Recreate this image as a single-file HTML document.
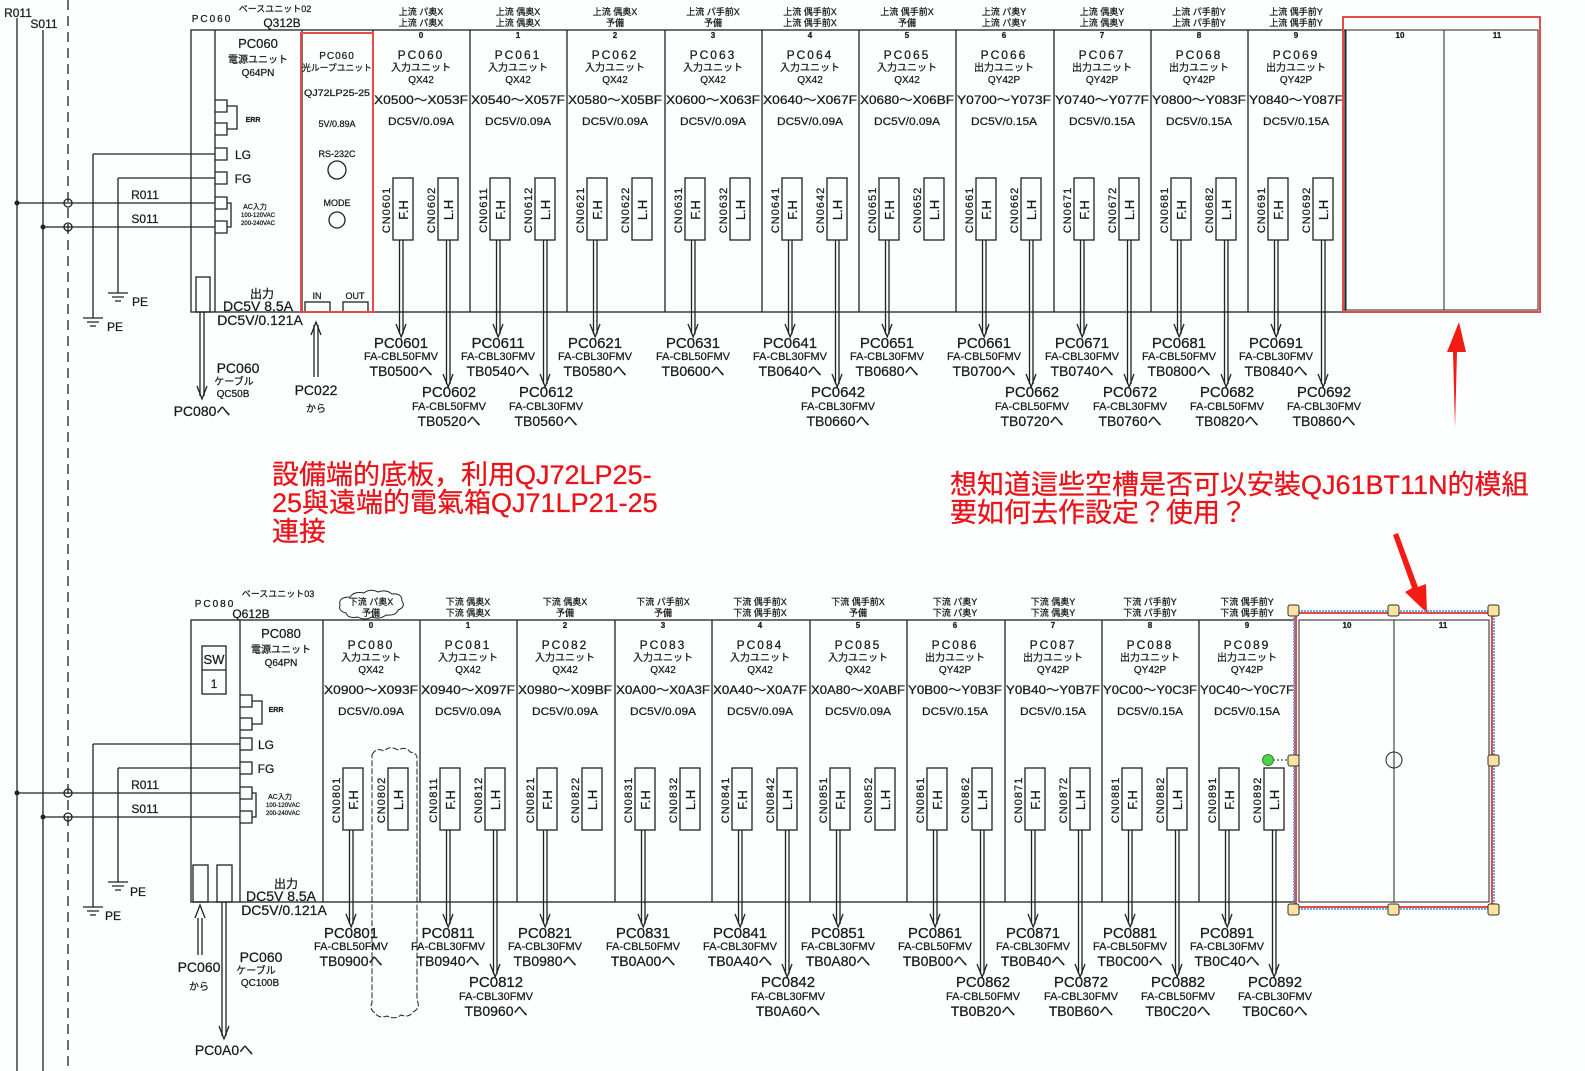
<!DOCTYPE html>
<html><head><meta charset="utf-8">
<style>
html,body{margin:0;padding:0;background:#fdfefe;}
svg{display:block;font-family:"Liberation Sans","Noto Sans CJK JP",sans-serif;}
text{fill:#1a1a1a;text-anchor:middle;stroke:#1a1a1a;stroke-width:0.25px;}
.h{font-size:9px;}
.n{font-size:8px;font-weight:bold;}
.p{font-size:12px;letter-spacing:2px;}
.t{font-size:10px;}
.r{font-size:12px;}
.d{font-size:11px;}
.c{font-size:11px;letter-spacing:1px;}
.f{font-size:13px;}
.l1{font-size:15px;}
.l2{font-size:11px;}
.l3{font-size:14px;}
.s{font-size:12px;}
.an{fill:#e8141a;font-size:27px;text-anchor:start;stroke:#e8141a;stroke-width:0.3px;}
.k{stroke:#222;stroke-width:1.3;fill:none;}
</style></head><body>
<svg width="1585" height="1071" viewBox="0 0 1585 1071" xmlns="http://www.w3.org/2000/svg">
<defs>
<g id="cn" class="k">
<rect x="20" y="178" width="20" height="62"/><rect x="65" y="178" width="20" height="62"/>
</g>
<g id="w1" class="k"><line x1="26.5" y1="240" x2="26.5" y2="334"/><line x1="30" y1="240" x2="30" y2="334"/><path d="M23,324 L28.2,337 L33,324"/></g>
<g id="w2" class="k"><line x1="73.5" y1="240" x2="73.5" y2="384"/><line x1="77" y1="240" x2="77" y2="384"/><path d="M70,374 L75.2,387 L80,374"/></g>
</defs>

<g class="k">
<line x1="17" y1="18" x2="17" y2="1071"/><line x1="43" y1="30" x2="43" y2="1071"/>
<line x1="68" y1="0" x2="68" y2="1071" stroke-dasharray="10,6"/>
</g>
<text x="18" y="17" class="s">R011</text>
<text x="44" y="28" class="s">S011</text>

<!-- TOP RACK -->
<g class="k">
<rect x="191" y="30" width="1154" height="282"/>
<line x1="215" y1="30" x2="215" y2="312"/><line x1="302" y1="30" x2="302" y2="312"/>
<line x1="373" y1="30" x2="373" y2="312"/><line x1="470" y1="30" x2="470" y2="312"/><line x1="567" y1="30" x2="567" y2="312"/><line x1="665" y1="30" x2="665" y2="312"/><line x1="762" y1="30" x2="762" y2="312"/><line x1="859" y1="30" x2="859" y2="312"/><line x1="956" y1="30" x2="956" y2="312"/><line x1="1054" y1="30" x2="1054" y2="312"/><line x1="1151" y1="30" x2="1151" y2="312"/><line x1="1248" y1="30" x2="1248" y2="312"/>
<rect x="196" y="277" width="14" height="35"/>
<path d="M215,100 h12 v12 h-12 M215,123 h12 v12 h-12 M227,106 h10 v23 h-10"/>
<path d="M215,148 h12 v12 h-12 M215,172 h12 v12 h-12 M215,197 h12 v12 h-12 M215,221 h12 v12 h-12 M227,203 h4 v24 h-4"/>
<line x1="17" y1="203" x2="215" y2="203"/><line x1="43" y1="227" x2="215" y2="227"/>
<line x1="93" y1="154" x2="215" y2="154"/><line x1="93" y1="154" x2="93" y2="318"/>
<line x1="118" y1="178" x2="215" y2="178"/><line x1="118" y1="178" x2="118" y2="293"/>
<path d="M108,293 h20 M112,297 h12 M115,301 h6 M83,318 h20 M87,322 h12 M90,326 h6"/>
<circle cx="68" cy="203" r="4"/><circle cx="68" cy="227" r="4"/>
<line x1="200" y1="312" x2="200" y2="396"/><line x1="204" y1="312" x2="204" y2="396"/><path d="M197,386 L202,399 L207,386"/>
<line x1="314" y1="325" x2="314" y2="377"/><line x1="318" y1="325" x2="318" y2="377"/><path d="M311,335 L316,322 L321,335"/>
<circle cx="337" cy="170" r="9"/><circle cx="337" cy="220" r="8"/>
<rect x="305" y="302" width="25" height="10"/><rect x="343" y="302" width="25" height="10"/>
</g>
<circle cx="17" cy="203" r="2.5" fill="#222"/><circle cx="43" cy="227" r="2.5" fill="#222"/>
<rect x="301" y="33" width="72" height="279" fill="none" stroke="#e84a4a" stroke-width="2"/>
<text x="212" y="22" class="t" style="letter-spacing:2px">PC060</text>
<text x="275" y="12" class="h">ベースユニット02</text>
<text x="282" y="27" class="s">Q312B</text>
<text x="258" y="48" class="f">PC060</text><text x="258" y="63" class="t">電源ユニット</text><text x="258" y="76" class="t">Q64PN</text>
<text x="253" y="122" class="h" style="font-size:7px;font-weight:bold">ERR</text>
<text x="243" y="159" class="s">LG</text><text x="243" y="183" class="s">FG</text>
<text x="255" y="209" class="h" style="font-size:7px">AC入力</text><text x="258" y="217" class="h" style="font-size:6px">100-120VAC</text><text x="258" y="225" class="h" style="font-size:6px">200-240VAC</text>
<text x="145" y="199" class="s">R011</text><text x="145" y="223" class="s">S011</text>
<text x="140" y="306" class="s">PE</text><text x="115" y="331" class="s">PE</text>
<text x="262" y="298" class="s">出力</text><text x="258" y="311" class="l3">DC5V 8.5A</text><text x="260" y="325" class="l3">DC5V/0.121A</text>
<text x="238" y="373" class="l3">PC060</text><text x="234" y="385" class="t">ケーブル</text><text x="233" y="397" class="t">QC50B</text>
<text x="202" y="416" class="l3">PC080へ</text>
<text x="316" y="395" class="l3">PC022</text><text x="316" y="412" class="t">から</text>
<text x="337" y="59" class="t" style="letter-spacing:1px">PC060</text><text x="337" y="71" class="h" textLength="70" lengthAdjust="spacingAndGlyphs">光ループユニット</text>
<text x="337" y="96" class="h" textLength="66" lengthAdjust="spacingAndGlyphs">QJ72LP25-25</text><text x="337" y="127" class="h">5V/0.89A</text>
<text x="337" y="157" class="h">RS-232C</text><text x="337" y="206" class="h">MODE</text>
<text x="317" y="299" class="h">IN</text><text x="355" y="299" class="h">OUT</text>

<g transform="translate(373,0)"><text x="48" y="15" class="h">上流 パ奥X</text><text x="48" y="26" class="h">上流 パ奥X</text><text x="48" y="38" class="n">0</text><text x="48" y="59" class="p">PC060</text><text x="48" y="71" class="t">入力ユニット</text><text x="48" y="83" class="t">QX42</text><text x="48" y="104" class="r" textLength="94" lengthAdjust="spacingAndGlyphs">X0500〜X053F</text><text x="48" y="125" class="d" textLength="66" lengthAdjust="spacingAndGlyphs">DC5V/0.09A</text><use href="#cn"/><use href="#w1"/><use href="#w2"/><text transform="translate(17,210) rotate(-90)" class="c">CN0601</text><text transform="translate(62,210) rotate(-90)" class="c">CN0602</text><text transform="translate(35,210) rotate(-90)" class="f">F.H</text><text transform="translate(80,210) rotate(-90)" class="f">L.H</text></g>
<g transform="translate(470,0)"><text x="48" y="15" class="h">上流 偶奥X</text><text x="48" y="26" class="h">上流 偶奥X</text><text x="48" y="38" class="n">1</text><text x="48" y="59" class="p">PC061</text><text x="48" y="71" class="t">入力ユニット</text><text x="48" y="83" class="t">QX42</text><text x="48" y="104" class="r" textLength="94" lengthAdjust="spacingAndGlyphs">X0540〜X057F</text><text x="48" y="125" class="d" textLength="66" lengthAdjust="spacingAndGlyphs">DC5V/0.09A</text><use href="#cn"/><use href="#w1"/><use href="#w2"/><text transform="translate(17,210) rotate(-90)" class="c">CN0611</text><text transform="translate(62,210) rotate(-90)" class="c">CN0612</text><text transform="translate(35,210) rotate(-90)" class="f">F.H</text><text transform="translate(80,210) rotate(-90)" class="f">L.H</text></g>
<g transform="translate(567,0)"><text x="48" y="15" class="h">上流 偶奥X</text><text x="48" y="26" class="h">予備</text><text x="48" y="38" class="n">2</text><text x="48" y="59" class="p">PC062</text><text x="48" y="71" class="t">入力ユニット</text><text x="48" y="83" class="t">QX42</text><text x="48" y="104" class="r" textLength="94" lengthAdjust="spacingAndGlyphs">X0580〜X05BF</text><text x="48" y="125" class="d" textLength="66" lengthAdjust="spacingAndGlyphs">DC5V/0.09A</text><use href="#cn"/><use href="#w1"/><text transform="translate(17,210) rotate(-90)" class="c">CN0621</text><text transform="translate(62,210) rotate(-90)" class="c">CN0622</text><text transform="translate(35,210) rotate(-90)" class="f">F.H</text><text transform="translate(80,210) rotate(-90)" class="f">L.H</text></g>
<g transform="translate(665,0)"><text x="48" y="15" class="h">上流 パ手前X</text><text x="48" y="26" class="h">予備</text><text x="48" y="38" class="n">3</text><text x="48" y="59" class="p">PC063</text><text x="48" y="71" class="t">入力ユニット</text><text x="48" y="83" class="t">QX42</text><text x="48" y="104" class="r" textLength="94" lengthAdjust="spacingAndGlyphs">X0600〜X063F</text><text x="48" y="125" class="d" textLength="66" lengthAdjust="spacingAndGlyphs">DC5V/0.09A</text><use href="#cn"/><use href="#w1"/><text transform="translate(17,210) rotate(-90)" class="c">CN0631</text><text transform="translate(62,210) rotate(-90)" class="c">CN0632</text><text transform="translate(35,210) rotate(-90)" class="f">F.H</text><text transform="translate(80,210) rotate(-90)" class="f">L.H</text></g>
<g transform="translate(762,0)"><text x="48" y="15" class="h">上流 偶手前X</text><text x="48" y="26" class="h">上流 偶手前X</text><text x="48" y="38" class="n">4</text><text x="48" y="59" class="p">PC064</text><text x="48" y="71" class="t">入力ユニット</text><text x="48" y="83" class="t">QX42</text><text x="48" y="104" class="r" textLength="94" lengthAdjust="spacingAndGlyphs">X0640〜X067F</text><text x="48" y="125" class="d" textLength="66" lengthAdjust="spacingAndGlyphs">DC5V/0.09A</text><use href="#cn"/><use href="#w1"/><use href="#w2"/><text transform="translate(17,210) rotate(-90)" class="c">CN0641</text><text transform="translate(62,210) rotate(-90)" class="c">CN0642</text><text transform="translate(35,210) rotate(-90)" class="f">F.H</text><text transform="translate(80,210) rotate(-90)" class="f">L.H</text></g>
<g transform="translate(859,0)"><text x="48" y="15" class="h">上流 偶手前X</text><text x="48" y="26" class="h">予備</text><text x="48" y="38" class="n">5</text><text x="48" y="59" class="p">PC065</text><text x="48" y="71" class="t">入力ユニット</text><text x="48" y="83" class="t">QX42</text><text x="48" y="104" class="r" textLength="94" lengthAdjust="spacingAndGlyphs">X0680〜X06BF</text><text x="48" y="125" class="d" textLength="66" lengthAdjust="spacingAndGlyphs">DC5V/0.09A</text><use href="#cn"/><use href="#w1"/><text transform="translate(17,210) rotate(-90)" class="c">CN0651</text><text transform="translate(62,210) rotate(-90)" class="c">CN0652</text><text transform="translate(35,210) rotate(-90)" class="f">F.H</text><text transform="translate(80,210) rotate(-90)" class="f">L.H</text></g>
<g transform="translate(956,0)"><text x="48" y="15" class="h">上流 パ奥Y</text><text x="48" y="26" class="h">上流 パ奥Y</text><text x="48" y="38" class="n">6</text><text x="48" y="59" class="p">PC066</text><text x="48" y="71" class="t">出力ユニット</text><text x="48" y="83" class="t">QY42P</text><text x="48" y="104" class="r" textLength="94" lengthAdjust="spacingAndGlyphs">Y0700〜Y073F</text><text x="48" y="125" class="d" textLength="66" lengthAdjust="spacingAndGlyphs">DC5V/0.15A</text><use href="#cn"/><use href="#w1"/><use href="#w2"/><text transform="translate(17,210) rotate(-90)" class="c">CN0661</text><text transform="translate(62,210) rotate(-90)" class="c">CN0662</text><text transform="translate(35,210) rotate(-90)" class="f">F.H</text><text transform="translate(80,210) rotate(-90)" class="f">L.H</text></g>
<g transform="translate(1054,0)"><text x="48" y="15" class="h">上流 偶奥Y</text><text x="48" y="26" class="h">上流 偶奥Y</text><text x="48" y="38" class="n">7</text><text x="48" y="59" class="p">PC067</text><text x="48" y="71" class="t">出力ユニット</text><text x="48" y="83" class="t">QY42P</text><text x="48" y="104" class="r" textLength="94" lengthAdjust="spacingAndGlyphs">Y0740〜Y077F</text><text x="48" y="125" class="d" textLength="66" lengthAdjust="spacingAndGlyphs">DC5V/0.15A</text><use href="#cn"/><use href="#w1"/><use href="#w2"/><text transform="translate(17,210) rotate(-90)" class="c">CN0671</text><text transform="translate(62,210) rotate(-90)" class="c">CN0672</text><text transform="translate(35,210) rotate(-90)" class="f">F.H</text><text transform="translate(80,210) rotate(-90)" class="f">L.H</text></g>
<g transform="translate(1151,0)"><text x="48" y="15" class="h">上流 パ手前Y</text><text x="48" y="26" class="h">上流 パ手前Y</text><text x="48" y="38" class="n">8</text><text x="48" y="59" class="p">PC068</text><text x="48" y="71" class="t">出力ユニット</text><text x="48" y="83" class="t">QY42P</text><text x="48" y="104" class="r" textLength="94" lengthAdjust="spacingAndGlyphs">Y0800〜Y083F</text><text x="48" y="125" class="d" textLength="66" lengthAdjust="spacingAndGlyphs">DC5V/0.15A</text><use href="#cn"/><use href="#w1"/><use href="#w2"/><text transform="translate(17,210) rotate(-90)" class="c">CN0681</text><text transform="translate(62,210) rotate(-90)" class="c">CN0682</text><text transform="translate(35,210) rotate(-90)" class="f">F.H</text><text transform="translate(80,210) rotate(-90)" class="f">L.H</text></g>
<g transform="translate(1248,0)"><text x="48" y="15" class="h">上流 偶手前Y</text><text x="48" y="26" class="h">上流 偶手前Y</text><text x="48" y="38" class="n">9</text><text x="48" y="59" class="p">PC069</text><text x="48" y="71" class="t">出力ユニット</text><text x="48" y="83" class="t">QY42P</text><text x="48" y="104" class="r" textLength="94" lengthAdjust="spacingAndGlyphs">Y0840〜Y087F</text><text x="48" y="125" class="d" textLength="66" lengthAdjust="spacingAndGlyphs">DC5V/0.15A</text><use href="#cn"/><use href="#w1"/><use href="#w2"/><text transform="translate(17,210) rotate(-90)" class="c">CN0691</text><text transform="translate(62,210) rotate(-90)" class="c">CN0692</text><text transform="translate(35,210) rotate(-90)" class="f">F.H</text><text transform="translate(80,210) rotate(-90)" class="f">L.H</text></g>

<g>
<text x="401" y="348" class="l1">PC0601</text><text x="401" y="360" class="l2">FA-CBL50FMV</text><text x="401" y="376" class="l3">TB0500へ</text>
<text x="498" y="348" class="l1">PC0611</text><text x="498" y="360" class="l2">FA-CBL30FMV</text><text x="498" y="376" class="l3">TB0540へ</text>
<text x="595" y="348" class="l1">PC0621</text><text x="595" y="360" class="l2">FA-CBL30FMV</text><text x="595" y="376" class="l3">TB0580へ</text>
<text x="693" y="348" class="l1">PC0631</text><text x="693" y="360" class="l2">FA-CBL50FMV</text><text x="693" y="376" class="l3">TB0600へ</text>
<text x="790" y="348" class="l1">PC0641</text><text x="790" y="360" class="l2">FA-CBL30FMV</text><text x="790" y="376" class="l3">TB0640へ</text>
<text x="887" y="348" class="l1">PC0651</text><text x="887" y="360" class="l2">FA-CBL30FMV</text><text x="887" y="376" class="l3">TB0680へ</text>
<text x="984" y="348" class="l1">PC0661</text><text x="984" y="360" class="l2">FA-CBL50FMV</text><text x="984" y="376" class="l3">TB0700へ</text>
<text x="1082" y="348" class="l1">PC0671</text><text x="1082" y="360" class="l2">FA-CBL30FMV</text><text x="1082" y="376" class="l3">TB0740へ</text>
<text x="1179" y="348" class="l1">PC0681</text><text x="1179" y="360" class="l2">FA-CBL50FMV</text><text x="1179" y="376" class="l3">TB0800へ</text>
<text x="1276" y="348" class="l1">PC0691</text><text x="1276" y="360" class="l2">FA-CBL30FMV</text><text x="1276" y="376" class="l3">TB0840へ</text>
<text x="449" y="397" class="l1">PC0602</text><text x="449" y="410" class="l2">FA-CBL50FMV</text><text x="449" y="426" class="l3">TB0520へ</text>
<text x="546" y="397" class="l1">PC0612</text><text x="546" y="410" class="l2">FA-CBL30FMV</text><text x="546" y="426" class="l3">TB0560へ</text>
<text x="838" y="397" class="l1">PC0642</text><text x="838" y="410" class="l2">FA-CBL30FMV</text><text x="838" y="426" class="l3">TB0660へ</text>
<text x="1032" y="397" class="l1">PC0662</text><text x="1032" y="410" class="l2">FA-CBL50FMV</text><text x="1032" y="426" class="l3">TB0720へ</text>
<text x="1130" y="397" class="l1">PC0672</text><text x="1130" y="410" class="l2">FA-CBL30FMV</text><text x="1130" y="426" class="l3">TB0760へ</text>
<text x="1227" y="397" class="l1">PC0682</text><text x="1227" y="410" class="l2">FA-CBL50FMV</text><text x="1227" y="426" class="l3">TB0820へ</text>
<text x="1324" y="397" class="l1">PC0692</text><text x="1324" y="410" class="l2">FA-CBL30FMV</text><text x="1324" y="426" class="l3">TB0860へ</text>
</g>

<g class="k" style="stroke-width:1">
<rect x="1346" y="30" width="192" height="280"/><line x1="1444" y1="30" x2="1444" y2="310"/>
</g>
<rect x="1343" y="17" width="197" height="295" fill="none" stroke="#e84a4a" stroke-width="2"/>
<text x="1400" y="38" class="n">10</text><text x="1497" y="38" class="n">11</text>

<text x="272" y="484" class="an">設備端的底板，利用QJ72LP25-</text>
<text x="272" y="512" class="an">25與遠端的電氣箱QJ71LP21-25</text>
<text x="272" y="541" class="an">連接</text>
<text x="950" y="494" class="an">想知道這些空槽是否可以安裝QJ61BT11N的模組</text>
<text x="950" y="522" class="an">要如何去作設定？使用？</text>
<path d="M1455,428 L1457,352 L1466,352 L1459,322 L1447,352 L1453,352 Z" fill="#f21c14"/>
<path d="M1393,535 L1412,588 L1405,592 L1427,613 L1426,584 L1418,587 L1398,533 Z" fill="#f21c14"/>

<!-- BOTTOM RACK -->
<g class="k">
<rect x="191" y="620" width="1104" height="282"/>
<line x1="240" y1="620" x2="240" y2="902"/><line x1="323" y1="620" x2="323" y2="902"/>
<line x1="420" y1="620" x2="420" y2="902"/><line x1="517" y1="620" x2="517" y2="902"/><line x1="615" y1="620" x2="615" y2="902"/><line x1="712" y1="620" x2="712" y2="902"/><line x1="810" y1="620" x2="810" y2="902"/><line x1="907" y1="620" x2="907" y2="902"/><line x1="1005" y1="620" x2="1005" y2="902"/><line x1="1102" y1="620" x2="1102" y2="902"/><line x1="1199" y1="620" x2="1199" y2="902"/>
<rect x="202" y="646" width="24" height="48"/><line x1="202" y1="670" x2="226" y2="670"/>
<rect x="193" y="865" width="15" height="37"/><rect x="217" y="865" width="15" height="37"/>
<path d="M240,695 h12 v12 h-12 M240,718 h12 v12 h-12 M252,701 h10 v23 h-10"/>
<path d="M240,738 h12 v12 h-12 M240,762 h12 v12 h-12 M240,787 h12 v12 h-12 M240,811 h12 v12 h-12 M252,793 h4 v24 h-4"/>
<line x1="17" y1="793" x2="240" y2="793"/><line x1="43" y1="817" x2="240" y2="817"/>
<line x1="93" y1="744" x2="240" y2="744"/><line x1="93" y1="744" x2="93" y2="907"/>
<line x1="118" y1="768" x2="240" y2="768"/><line x1="118" y1="768" x2="118" y2="882"/>
<path d="M108,882 h20 M112,886 h12 M115,890 h6 M83,907 h20 M87,911 h12 M90,915 h6"/>
<circle cx="68" cy="793" r="4"/><circle cx="68" cy="817" r="4"/>
<line x1="222" y1="902" x2="222" y2="1036"/><line x1="226" y1="902" x2="226" y2="1036"/><path d="M219,1026 L224,1039 L229,1026"/>
<line x1="198" y1="918" x2="198" y2="955"/><line x1="202" y1="918" x2="202" y2="955"/><path d="M195,918 L200,905 L205,918"/>
<path d="M340,605 q-2,-8 10,-8 q4,-6 14,-4 q6,-5 14,-1 q8,-3 14,2 q10,-1 10,7 q4,6 -4,9 q-2,6 -12,5 q-6,5 -14,2 q-8,4 -14,0 q-10,2 -12,-4 q-8,-2 -6,-8z" stroke-width="1"/>
<path d="M372,755 q4,-8 12,-4 q6,-6 14,-1 q8,-4 12,2 q8,1 7,8 v240 q4,8 -4,12 q-4,6 -12,3 q-6,5 -14,1 q-8,3 -12,-3 q-6,-4 -3,-10z" stroke-width="1" stroke-dasharray="6,2"/>
</g>
<circle cx="17" cy="793" r="2.5" fill="#222"/><circle cx="43" cy="817" r="2.5" fill="#222"/>
<text x="215" y="607" class="t" style="letter-spacing:2px">PC080</text>
<text x="278" y="597" class="h">ベースユニット03</text>
<text x="251" y="618" class="s">Q612B</text>
<text x="214" y="664" class="f">SW</text><text x="214" y="688" class="s">1</text>
<text x="281" y="638" class="f">PC080</text><text x="281" y="653" class="t">電源ユニット</text><text x="281" y="666" class="t">Q64PN</text>
<text x="276" y="712" class="h" style="font-size:7px;font-weight:bold">ERR</text>
<text x="266" y="749" class="s">LG</text><text x="266" y="773" class="s">FG</text>
<text x="280" y="799" class="h" style="font-size:7px">AC入力</text><text x="283" y="807" class="h" style="font-size:6px">100-120VAC</text><text x="283" y="815" class="h" style="font-size:6px">200-240VAC</text>
<text x="145" y="789" class="s">R011</text><text x="145" y="813" class="s">S011</text>
<text x="138" y="896" class="s">PE</text><text x="113" y="920" class="s">PE</text>
<text x="286" y="888" class="s">出力</text><text x="281" y="901" class="l3">DC5V 8.5A</text><text x="284" y="915" class="l3">DC5V/0.121A</text>
<text x="261" y="962" class="l3">PC060</text><text x="256" y="974" class="t">ケーブル</text><text x="260" y="986" class="t">QC100B</text>
<text x="199" y="972" class="l3">PC060</text><text x="199" y="990" class="t">から</text>
<text x="224" y="1055" class="l3">PC0A0へ</text>

<g transform="translate(323,590)"><text x="48" y="15" class="h">下流 パ奥X</text><text x="48" y="26" class="h">予備</text><text x="48" y="38" class="n">0</text><text x="48" y="59" class="p">PC080</text><text x="48" y="71" class="t">入力ユニット</text><text x="48" y="83" class="t">QX42</text><text x="48" y="104" class="r" textLength="94" lengthAdjust="spacingAndGlyphs">X0900〜X093F</text><text x="48" y="125" class="d" textLength="66" lengthAdjust="spacingAndGlyphs">DC5V/0.09A</text><use href="#cn"/><use href="#w1"/><text transform="translate(17,210) rotate(-90)" class="c">CN0801</text><text transform="translate(62,210) rotate(-90)" class="c">CN0802</text><text transform="translate(35,210) rotate(-90)" class="f">F.H</text><text transform="translate(80,210) rotate(-90)" class="f">L.H</text></g>
<g transform="translate(420,590)"><text x="48" y="15" class="h">下流 偶奥X</text><text x="48" y="26" class="h">下流 偶奥X</text><text x="48" y="38" class="n">1</text><text x="48" y="59" class="p">PC081</text><text x="48" y="71" class="t">入力ユニット</text><text x="48" y="83" class="t">QX42</text><text x="48" y="104" class="r" textLength="94" lengthAdjust="spacingAndGlyphs">X0940〜X097F</text><text x="48" y="125" class="d" textLength="66" lengthAdjust="spacingAndGlyphs">DC5V/0.09A</text><use href="#cn"/><use href="#w1"/><use href="#w2"/><text transform="translate(17,210) rotate(-90)" class="c">CN0811</text><text transform="translate(62,210) rotate(-90)" class="c">CN0812</text><text transform="translate(35,210) rotate(-90)" class="f">F.H</text><text transform="translate(80,210) rotate(-90)" class="f">L.H</text></g>
<g transform="translate(517,590)"><text x="48" y="15" class="h">下流 偶奥X</text><text x="48" y="26" class="h">予備</text><text x="48" y="38" class="n">2</text><text x="48" y="59" class="p">PC082</text><text x="48" y="71" class="t">入力ユニット</text><text x="48" y="83" class="t">QX42</text><text x="48" y="104" class="r" textLength="94" lengthAdjust="spacingAndGlyphs">X0980〜X09BF</text><text x="48" y="125" class="d" textLength="66" lengthAdjust="spacingAndGlyphs">DC5V/0.09A</text><use href="#cn"/><use href="#w1"/><text transform="translate(17,210) rotate(-90)" class="c">CN0821</text><text transform="translate(62,210) rotate(-90)" class="c">CN0822</text><text transform="translate(35,210) rotate(-90)" class="f">F.H</text><text transform="translate(80,210) rotate(-90)" class="f">L.H</text></g>
<g transform="translate(615,590)"><text x="48" y="15" class="h">下流 パ手前X</text><text x="48" y="26" class="h">予備</text><text x="48" y="38" class="n">3</text><text x="48" y="59" class="p">PC083</text><text x="48" y="71" class="t">入力ユニット</text><text x="48" y="83" class="t">QX42</text><text x="48" y="104" class="r" textLength="94" lengthAdjust="spacingAndGlyphs">X0A00〜X0A3F</text><text x="48" y="125" class="d" textLength="66" lengthAdjust="spacingAndGlyphs">DC5V/0.09A</text><use href="#cn"/><use href="#w1"/><text transform="translate(17,210) rotate(-90)" class="c">CN0831</text><text transform="translate(62,210) rotate(-90)" class="c">CN0832</text><text transform="translate(35,210) rotate(-90)" class="f">F.H</text><text transform="translate(80,210) rotate(-90)" class="f">L.H</text></g>
<g transform="translate(712,590)"><text x="48" y="15" class="h">下流 偶手前X</text><text x="48" y="26" class="h">下流 偶手前X</text><text x="48" y="38" class="n">4</text><text x="48" y="59" class="p">PC084</text><text x="48" y="71" class="t">入力ユニット</text><text x="48" y="83" class="t">QX42</text><text x="48" y="104" class="r" textLength="94" lengthAdjust="spacingAndGlyphs">X0A40〜X0A7F</text><text x="48" y="125" class="d" textLength="66" lengthAdjust="spacingAndGlyphs">DC5V/0.09A</text><use href="#cn"/><use href="#w1"/><use href="#w2"/><text transform="translate(17,210) rotate(-90)" class="c">CN0841</text><text transform="translate(62,210) rotate(-90)" class="c">CN0842</text><text transform="translate(35,210) rotate(-90)" class="f">F.H</text><text transform="translate(80,210) rotate(-90)" class="f">L.H</text></g>
<g transform="translate(810,590)"><text x="48" y="15" class="h">下流 偶手前X</text><text x="48" y="26" class="h">予備</text><text x="48" y="38" class="n">5</text><text x="48" y="59" class="p">PC085</text><text x="48" y="71" class="t">入力ユニット</text><text x="48" y="83" class="t">QX42</text><text x="48" y="104" class="r" textLength="94" lengthAdjust="spacingAndGlyphs">X0A80〜X0ABF</text><text x="48" y="125" class="d" textLength="66" lengthAdjust="spacingAndGlyphs">DC5V/0.09A</text><use href="#cn"/><use href="#w1"/><text transform="translate(17,210) rotate(-90)" class="c">CN0851</text><text transform="translate(62,210) rotate(-90)" class="c">CN0852</text><text transform="translate(35,210) rotate(-90)" class="f">F.H</text><text transform="translate(80,210) rotate(-90)" class="f">L.H</text></g>
<g transform="translate(907,590)"><text x="48" y="15" class="h">下流 パ奥Y</text><text x="48" y="26" class="h">下流 パ奥Y</text><text x="48" y="38" class="n">6</text><text x="48" y="59" class="p">PC086</text><text x="48" y="71" class="t">出力ユニット</text><text x="48" y="83" class="t">QY42P</text><text x="48" y="104" class="r" textLength="94" lengthAdjust="spacingAndGlyphs">Y0B00〜Y0B3F</text><text x="48" y="125" class="d" textLength="66" lengthAdjust="spacingAndGlyphs">DC5V/0.15A</text><use href="#cn"/><use href="#w1"/><use href="#w2"/><text transform="translate(17,210) rotate(-90)" class="c">CN0861</text><text transform="translate(62,210) rotate(-90)" class="c">CN0862</text><text transform="translate(35,210) rotate(-90)" class="f">F.H</text><text transform="translate(80,210) rotate(-90)" class="f">L.H</text></g>
<g transform="translate(1005,590)"><text x="48" y="15" class="h">下流 偶奥Y</text><text x="48" y="26" class="h">下流 偶奥Y</text><text x="48" y="38" class="n">7</text><text x="48" y="59" class="p">PC087</text><text x="48" y="71" class="t">出力ユニット</text><text x="48" y="83" class="t">QY42P</text><text x="48" y="104" class="r" textLength="94" lengthAdjust="spacingAndGlyphs">Y0B40〜Y0B7F</text><text x="48" y="125" class="d" textLength="66" lengthAdjust="spacingAndGlyphs">DC5V/0.15A</text><use href="#cn"/><use href="#w1"/><use href="#w2"/><text transform="translate(17,210) rotate(-90)" class="c">CN0871</text><text transform="translate(62,210) rotate(-90)" class="c">CN0872</text><text transform="translate(35,210) rotate(-90)" class="f">F.H</text><text transform="translate(80,210) rotate(-90)" class="f">L.H</text></g>
<g transform="translate(1102,590)"><text x="48" y="15" class="h">下流 パ手前Y</text><text x="48" y="26" class="h">下流 パ手前Y</text><text x="48" y="38" class="n">8</text><text x="48" y="59" class="p">PC088</text><text x="48" y="71" class="t">出力ユニット</text><text x="48" y="83" class="t">QY42P</text><text x="48" y="104" class="r" textLength="94" lengthAdjust="spacingAndGlyphs">Y0C00〜Y0C3F</text><text x="48" y="125" class="d" textLength="66" lengthAdjust="spacingAndGlyphs">DC5V/0.15A</text><use href="#cn"/><use href="#w1"/><use href="#w2"/><text transform="translate(17,210) rotate(-90)" class="c">CN0881</text><text transform="translate(62,210) rotate(-90)" class="c">CN0882</text><text transform="translate(35,210) rotate(-90)" class="f">F.H</text><text transform="translate(80,210) rotate(-90)" class="f">L.H</text></g>
<g transform="translate(1199,590)"><text x="48" y="15" class="h">下流 偶手前Y</text><text x="48" y="26" class="h">下流 偶手前Y</text><text x="48" y="38" class="n">9</text><text x="48" y="59" class="p">PC089</text><text x="48" y="71" class="t">出力ユニット</text><text x="48" y="83" class="t">QY42P</text><text x="48" y="104" class="r" textLength="94" lengthAdjust="spacingAndGlyphs">Y0C40〜Y0C7F</text><text x="48" y="125" class="d" textLength="66" lengthAdjust="spacingAndGlyphs">DC5V/0.15A</text><use href="#cn"/><use href="#w1"/><use href="#w2"/><text transform="translate(17,210) rotate(-90)" class="c">CN0891</text><text transform="translate(62,210) rotate(-90)" class="c">CN0892</text><text transform="translate(35,210) rotate(-90)" class="f">F.H</text><text transform="translate(80,210) rotate(-90)" class="f">L.H</text></g>

<g>
<text x="351" y="938" class="l1">PC0801</text><text x="351" y="950" class="l2">FA-CBL50FMV</text><text x="351" y="966" class="l3">TB0900へ</text>
<text x="448" y="938" class="l1">PC0811</text><text x="448" y="950" class="l2">FA-CBL30FMV</text><text x="448" y="966" class="l3">TB0940へ</text>
<text x="545" y="938" class="l1">PC0821</text><text x="545" y="950" class="l2">FA-CBL30FMV</text><text x="545" y="966" class="l3">TB0980へ</text>
<text x="643" y="938" class="l1">PC0831</text><text x="643" y="950" class="l2">FA-CBL50FMV</text><text x="643" y="966" class="l3">TB0A00へ</text>
<text x="740" y="938" class="l1">PC0841</text><text x="740" y="950" class="l2">FA-CBL30FMV</text><text x="740" y="966" class="l3">TB0A40へ</text>
<text x="838" y="938" class="l1">PC0851</text><text x="838" y="950" class="l2">FA-CBL30FMV</text><text x="838" y="966" class="l3">TB0A80へ</text>
<text x="935" y="938" class="l1">PC0861</text><text x="935" y="950" class="l2">FA-CBL50FMV</text><text x="935" y="966" class="l3">TB0B00へ</text>
<text x="1033" y="938" class="l1">PC0871</text><text x="1033" y="950" class="l2">FA-CBL30FMV</text><text x="1033" y="966" class="l3">TB0B40へ</text>
<text x="1130" y="938" class="l1">PC0881</text><text x="1130" y="950" class="l2">FA-CBL50FMV</text><text x="1130" y="966" class="l3">TB0C00へ</text>
<text x="1227" y="938" class="l1">PC0891</text><text x="1227" y="950" class="l2">FA-CBL30FMV</text><text x="1227" y="966" class="l3">TB0C40へ</text>
<text x="496" y="987" class="l1">PC0812</text><text x="496" y="1000" class="l2">FA-CBL30FMV</text><text x="496" y="1016" class="l3">TB0960へ</text>
<text x="788" y="987" class="l1">PC0842</text><text x="788" y="1000" class="l2">FA-CBL30FMV</text><text x="788" y="1016" class="l3">TB0A60へ</text>
<text x="983" y="987" class="l1">PC0862</text><text x="983" y="1000" class="l2">FA-CBL50FMV</text><text x="983" y="1016" class="l3">TB0B20へ</text>
<text x="1081" y="987" class="l1">PC0872</text><text x="1081" y="1000" class="l2">FA-CBL30FMV</text><text x="1081" y="1016" class="l3">TB0B60へ</text>
<text x="1178" y="987" class="l1">PC0882</text><text x="1178" y="1000" class="l2">FA-CBL50FMV</text><text x="1178" y="1016" class="l3">TB0C20へ</text>
<text x="1275" y="987" class="l1">PC0892</text><text x="1275" y="1000" class="l2">FA-CBL30FMV</text><text x="1275" y="1016" class="l3">TB0C60へ</text>
</g>

<rect x="1295" y="612" width="198" height="296" fill="none" stroke="#6aa8e0" stroke-width="4" stroke-dasharray="2,1"/>
<rect x="1296" y="613" width="196" height="294" fill="none" stroke="#e84a4a" stroke-width="2"/>
<g class="k" style="stroke-width:1">
<rect x="1299" y="620" width="190" height="282"/><line x1="1394" y1="620" x2="1394" y2="902"/>
<circle cx="1394" cy="760" r="8"/>
<line x1="1273" y1="760" x2="1288" y2="760" stroke-dasharray="2,2"/>
</g>
<text x="1347" y="628" class="n">10</text><text x="1443" y="628" class="n">11</text>
<circle cx="1268" cy="760" r="5.5" fill="#4fd24f" stroke="#2a8a2a"/>
<g fill="#fde3a0" stroke="#333" stroke-width="1">
<rect x="1288" y="605" width="11" height="11" rx="2"/><rect x="1388" y="605" width="11" height="11" rx="2"/><rect x="1488" y="605" width="11" height="11" rx="2"/>
<rect x="1288" y="755" width="11" height="11" rx="2"/><rect x="1488" y="755" width="11" height="11" rx="2"/>
<rect x="1288" y="904" width="11" height="11" rx="2"/><rect x="1388" y="904" width="11" height="11" rx="2"/><rect x="1488" y="904" width="11" height="11" rx="2"/>
</g>
</svg>
</body></html>
